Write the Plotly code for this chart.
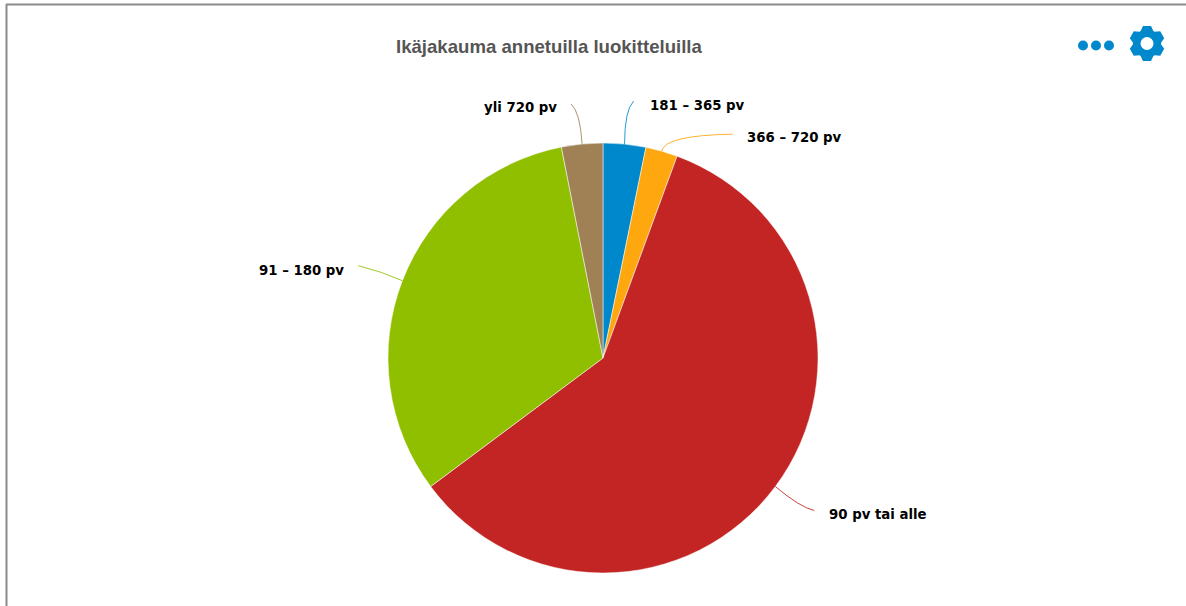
import math
import plotly.graph_objects as go

# Data
categories = ["181 – 365 pv", "366 – 720 pv", "90 pv tai alle", "91 – 180 pv", "yli 720 pv"]
values = [3.2, 2.4, 59.2, 32.1, 3.1]
colors = ["#0088CC", "#FFA70F", "#C22523", "#90BF00", "#A08155"]
title_text = "Ikäjakauma annetuilla luokitteluilla"

W, H = 1186, 606
CX, CY, R = 603, 358, 215

# layout only: (end dx, end dy, ctrl dx, ctrl dy, text dx, text dy, anchor) relative to slice edge
leaders = [
    (9, -43, 0, -34, 23, -39, "left"),
    (71, -17, 3, -16, 83, -14, "left"),
    (39, 24, 25, 21, 52, 28, "left"),
    (-44, -15, -20, -9, -56, -10, "right"),
    (-11, -40, -2, -32, -23, -37, "right"),
]

def px(x):
    return x / W

def py(y):
    return 1 - y / H

fig = go.Figure(go.Pie(
    labels=categories,
    values=values,
    sort=False,
    direction="clockwise",
    rotation=0,
    marker=dict(colors=colors, line=dict(color="#ffffff", width=0.5)),
    textinfo="none",
    hoverinfo="label+percent",
    showlegend=False,
    domain=dict(x=[px(CX - R), px(CX + R)], y=[py(CY + R), py(CY - R)]),
))

shapes, annotations = [], []
total = sum(values)
cum = 0
for cat, val, col, ld in zip(categories, values, colors, leaders):
    mid = (cum + val / 2) / total * 2 * math.pi
    cum += val
    ex = CX + R * math.sin(mid)
    ey = CY - R * math.cos(mid)
    dx, dy, cx, cy, tx, ty, anchor = ld
    shapes.append(dict(
        type="path", xref="x", yref="y",
        path=f"M {ex:.1f} {ey:.1f} Q {ex + cx:.1f} {ey + cy:.1f} {ex + dx:.1f} {ey + dy:.1f}",
        line=dict(color=col, width=1), opacity=0.85,
    ))
    annotations.append(dict(
        x=ex + tx, y=ey + ty, xref="x", yref="y",
        text=f"<b>{cat}</b>", showarrow=False, xanchor=anchor, yanchor="middle",
        font=dict(family="DejaVu Sans", size=13.3, color="#000000"),
    ))

annotations.append(dict(
    x=549, y=46, xref="x", yref="y", text=f"<b>{title_text}</b>", showarrow=False,
    xanchor="center", yanchor="middle",
    font=dict(family="Liberation Sans", size=18.6, color="#555555"),
))

# frame
FRAME = "#8a8a8a"
shapes.append(dict(type="line", xref="x", yref="y", x0=6.5, x1=6.5, y0=4, y1=H, line=dict(color=FRAME, width=2)))
shapes.append(dict(type="line", xref="x", yref="y", x0=6, x1=W, y0=4.5, y1=4.5, line=dict(color=FRAME, width=2)))

# menu dots
ICON = "#0088CC"
for cx in (1083, 1096, 1109):
    shapes.append(dict(type="circle", xref="x", yref="y", x0=cx - 5, x1=cx + 5, y0=40.5, y1=50.5,
                       fillcolor=ICON, line=dict(width=0)))

# gear icon
gx, gy = 1147, 43.5
pts = []
for i in range(6):
    a = math.radians(60 * i)
    for off, r in ((-27, 14), (-13, 18), (13, 18), (27, 14)):
        t = a + math.radians(off)
        pts.append((gx + r * math.sin(t), gy - r * math.cos(t)))
shapes.append(dict(type="path", xref="x", yref="y",
                   path="M " + " L ".join(f"{x:.1f} {y:.1f}" for x, y in pts) + " Z",
                   fillcolor=ICON, line=dict(width=0)))
shapes.append(dict(type="circle", xref="x", yref="y", x0=gx - 6.5, x1=gx + 6.5, y0=gy - 6.5, y1=gy + 6.5,
                   fillcolor="#ffffff", line=dict(width=0)))

fig.update_layout(
    width=W, height=H,
    margin=dict(l=0, r=0, t=0, b=0),
    paper_bgcolor="#ffffff", plot_bgcolor="rgba(0,0,0,0)",
    xaxis=dict(range=[0, W], visible=False, fixedrange=True),
    yaxis=dict(range=[H, 0], visible=False, fixedrange=True),
    shapes=shapes, annotations=annotations,
)
fig.write_html("out.html", config=dict(displayModeBar=False),
               post_script="document.body.style.margin='0';document.body.style.overflow='hidden';")
